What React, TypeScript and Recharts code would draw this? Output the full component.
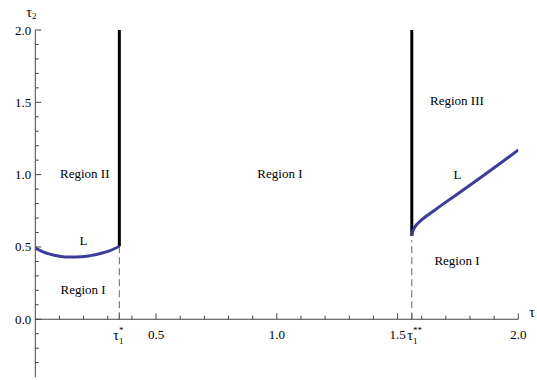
import React from 'react';
import { LineChart, Line, XAxis, YAxis, ReferenceLine, ReferenceDot } from 'recharts';

// ---- data ----
const leftLX = [0, 0.03, 0.06, 0.1, 0.144, 0.19, 0.227, 0.27, 0.309, 0.348];
const leftLY = [0.493, 0.468, 0.45, 0.436, 0.43, 0.432, 0.44, 0.455, 0.474, 0.505];

const rightLX = [1.559, 1.562, 1.568, 1.578, 1.595, 1.62, 1.655, 1.7, 1.76, 1.84, 1.92, 2.0];
const rightLY = [0.576, 0.602, 0.627, 0.652, 0.68, 0.714, 0.756, 0.81, 0.88, 0.975, 1.072, 1.171];

const tau1Star = 0.348;
const tau1StarStar = 1.559;
const yTop = 2.0;

const xMinorTicks = [0.1, 0.2, 0.3, 0.4, 0.6, 0.7, 0.8, 0.9, 1.1, 1.2, 1.3, 1.4, 1.6, 1.7, 1.8, 1.9];
const xMajorTicks = [0.5, 1.0, 1.5, 2.0];
const xMajorLabels = ['0.5', '1.0', '1.5', '2.0'];

const yAllTicks = [-0.3, -0.2, -0.1, 0, 0.1, 0.2, 0.3, 0.4, 0.5, 0.6, 0.7, 0.8, 0.9, 1.0, 1.1, 1.2, 1.3, 1.4, 1.5, 1.6, 1.7, 1.8, 1.9, 2.0];
const yMajorTicks = [0, 0.5, 1.0, 1.5, 2.0];
const yMajorLabels = ['0.0', '0.5', '1.0', '1.5', '2.0'];

const regionLabels = [
  { x: 0.205, y: 1.012, text: 'Region II' },
  { x: 1.013, y: 1.01, text: 'Region I' },
  { x: 1.746, y: 1.51, text: 'Region III' },
  { x: 0.198, y: 0.207, text: 'Region I' },
  { x: 1.746, y: 0.41, text: 'Region I' },
  { x: 0.199, y: 0.548, text: 'L' },
  { x: 1.748, y: 1.003, text: 'L' },
];

const zip = (xs: number[], ys: number[]) => xs.map((x, i) => ({ x, y: ys[i] }));
const leftLData = zip(leftLX, leftLY);
const rightLData = zip(rightLX, rightLY);
const vertStar = [{ x: tau1Star, y: leftLY[leftLY.length - 1] }, { x: tau1Star, y: yTop }];
const vertStarStar = [{ x: tau1StarStar, y: rightLY[0] }, { x: tau1StarStar, y: yTop }];
const dashStar = [{ x: tau1Star, y: 0 }, { x: tau1Star, y: leftLY[leftLY.length - 1] }];
const dashStarStar = [{ x: tau1StarStar, y: 0 }, { x: tau1StarStar, y: rightLY[0] - 0.03 }];

// ---- styles ----
const FONT = '"Liberation Serif", "DejaVu Serif", serif';
const AXIS = '#444';
const BLUE = '#3c3c9a';
const MAJOR_LEN = 0.041;
const MINOR_LEN = 0.024;

const YTick = (props: any) => {
  const { x, y, payload } = props;
  const v = payload.value;
  const idx = yMajorTicks.findIndex((m) => Math.abs(m - v) < 1e-6);
  const major = idx >= 0;
  return (
    <g>
      <line x1={x} x2={x + (major ? 6 : 3.5)} y1={y} y2={y} stroke={AXIS} strokeWidth={1} />
      {major && (
        <text x={x - 4} y={y + 4.5} textAnchor="end" fontSize={13} fontFamily={FONT} fill="#000">
          {yMajorLabels[idx]}
        </text>
      )}
    </g>
  );
};

const XTickText = (props: any) => {
  const { viewBox, text } = props;
  return (
    <text x={viewBox.x} y={viewBox.y + 20} textAnchor="middle" fontSize={13} fontFamily={FONT} fill="#000">
      {text}
    </text>
  );
};

const TauTick = (props: any) => {
  const { viewBox, stars, shift } = props;
  return (
    <text x={viewBox.x + shift} y={viewBox.y + 21} textAnchor="start" fontFamily={FONT} fill="#000">
      <tspan fontSize={14}>τ</tspan>
      <tspan fontSize={9} dy={4}>1</tspan>
      <tspan fontSize={9} dx={-4.5} dy={-11}>{stars}</tspan>
    </text>
  );
};

const TauAxisLabel = (props: any) => {
  const { viewBox } = props;
  return (
    <text x={viewBox.x + 11} y={viewBox.y - 2.5} textAnchor="start" fontSize={14} fontFamily={FONT} fill="#000">
      τ
    </text>
  );
};

const Tau2AxisLabel = (props: any) => {
  const { viewBox } = props;
  return (
    <text x={viewBox.x - 9} y={viewBox.y - 13.5} textAnchor="start" fontFamily={FONT} fill="#000">
      <tspan fontSize={14}>τ</tspan>
      <tspan fontSize={9} dy={2}>2</tspan>
    </text>
  );
};

export default function App() {
  return (
    <div style={{ position: 'absolute', left: 0, top: 0, width: 537, height: 380, background: '#fff' }}>
      <LineChart width={537} height={380} margin={{ top: 30, right: 18.7, bottom: 2.9, left: 0 }}>
        <XAxis type="number" dataKey="x" domain={[0, 2]} hide allowDataOverflow />
        <YAxis
          type="number"
          domain={[-0.4, 2]}
          allowDataOverflow
          ticks={yAllTicks}
          interval={0}
          tick={<YTick />}
          tickLine={false}
          tickSize={0}
          tickMargin={0}
          axisLine={{ stroke: AXIS, strokeWidth: 1 }}
          width={35.3}
        />
        <ReferenceLine y={0} stroke={AXIS} strokeWidth={1} />
        {xMinorTicks.map((v) => (
          <ReferenceLine key={'mi' + v} segment={[{ x: v, y: 0 }, { x: v, y: MINOR_LEN }]} stroke={AXIS} strokeWidth={1} />
        ))}
        {xMajorTicks.map((v) => (
          <ReferenceLine key={'ma' + v} segment={[{ x: v, y: 0 }, { x: v, y: MAJOR_LEN }]} stroke={AXIS} strokeWidth={1} />
        ))}
        {[tau1Star, tau1StarStar].map((v) => (
          <ReferenceLine key={'t' + v} segment={[{ x: v, y: 0 }, { x: v, y: MAJOR_LEN }]} stroke={AXIS} strokeWidth={1} />
        ))}
        {xMajorTicks.map((v, i) => (
          <ReferenceDot key={'ml' + v} x={v} y={0} r={0} fill="none" stroke="none" ifOverflow="visible"
            label={<XTickText text={xMajorLabels[i]} />} />
        ))}
        <ReferenceDot x={tau1Star} y={0} r={0} fill="none" stroke="none" ifOverflow="visible"
          label={<TauTick stars="*" shift={-6} />} />
        <ReferenceDot x={tau1StarStar} y={0} r={0} fill="none" stroke="none" ifOverflow="visible"
          label={<TauTick stars="**" shift={-4.5} />} />
        <ReferenceDot x={2} y={0} r={0} fill="none" stroke="none" ifOverflow="visible" label={<TauAxisLabel />} />
        <ReferenceDot x={0} y={2} r={0} fill="none" stroke="none" ifOverflow="visible" label={<Tau2AxisLabel />} />

        <Line data={dashStar} dataKey="y" type="linear" stroke="#666" strokeWidth={1} strokeDasharray="7 4" dot={false} activeDot={false} isAnimationActive={false} />
        <Line data={dashStarStar} dataKey="y" type="linear" stroke="#666" strokeWidth={1} strokeDasharray="7 4" dot={false} activeDot={false} isAnimationActive={false} />
        <Line data={vertStar} dataKey="y" type="linear" stroke="#000" strokeWidth={3} dot={false} activeDot={false} isAnimationActive={false} />
        <Line data={vertStarStar} dataKey="y" type="linear" stroke="#000" strokeWidth={3} dot={false} activeDot={false} isAnimationActive={false} />
        <Line data={leftLData} dataKey="y" type="monotone" stroke={BLUE} strokeWidth={3} dot={false} activeDot={false} isAnimationActive={false} />
        <Line data={rightLData} dataKey="y" type="monotone" stroke={BLUE} strokeWidth={3} dot={false} activeDot={false} isAnimationActive={false} />

        {regionLabels.map((r, i) => (
          <ReferenceDot key={'r' + i} x={r.x} y={r.y} r={0} fill="none" stroke="none" ifOverflow="visible"
            label={{ value: r.text, position: 'center', fill: '#000', fontSize: 13, fontFamily: FONT }} />
        ))}
      </LineChart>
    </div>
  );
}
